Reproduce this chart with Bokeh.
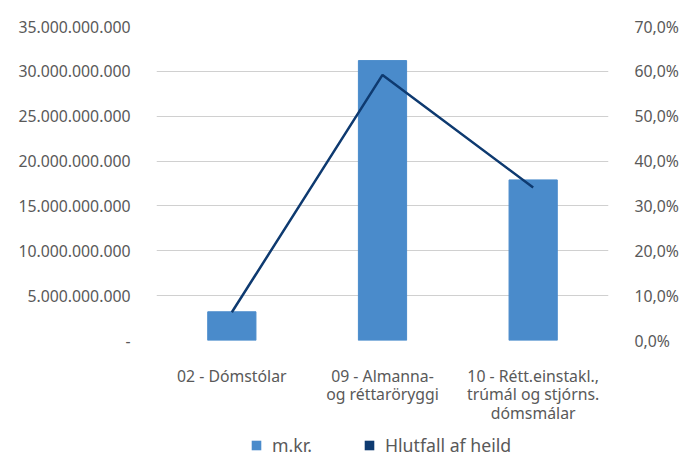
from bokeh.plotting import figure
from bokeh.layouts import column
from bokeh.models import (Range1d, LinearAxis, CustomJSTickFormatter, Legend, LegendItem,
                          FixedTicker, ColumnDataSource)
from bokeh.embed import file_html
from bokeh.resources import INLINE

categories = ["02 - Dómstólar", "09 - Almanna-\nog réttaröryggi",
              "10 - Rétt.einstakl.,\ntrúmál og stjórns.\ndómsmálar"]
amounts = [3.2e9, 31.2e9, 17.9e9]          # m.kr.
shares = [0.063, 0.592, 0.341]             # Hlutfall af heild
left_ticks = [0, 5e9, 10e9, 15e9, 20e9, 25e9, 30e9, 35e9]
right_ticks = [0.0, 0.1, 0.2, 0.3, 0.4, 0.5, 0.6, 0.7]
series_names = ["m.kr.", "Hlutfall af heild"]

BAR = "#4A8BCB"
LINE = "#0E3A70"
TXT = "#595959"
FONT = "Noto Sans"
FS = "15.8px"

src = ColumnDataSource(dict(cat=categories, amt=amounts, share=shares))

# ---- main chart ----
p = figure(x_range=categories, y_range=Range1d(0, 35e9), width=682, height=428,
           output_backend="svg", toolbar_location=None,
           min_border_left=156, min_border_right=74, min_border_top=26, min_border_bottom=88)
p.extra_y_ranges = {"pct": Range1d(0, 0.7)}
p.outline_line_color = None

p.vbar(x="cat", top="amt", width=0.32, source=src, color=BAR)
p.line(x="cat", y="share", source=src, y_range_name="pct", line_color=LINE, line_width=2.5)

p.xgrid.grid_line_color = None
p.ygrid.grid_line_color = "#D0D0D0"
p.ygrid.grid_line_width = 1
p.ygrid.ticker = FixedTicker(ticks=left_ticks)

yl = p.yaxis[0]
yl.ticker = FixedTicker(ticks=left_ticks)
yl.formatter = CustomJSTickFormatter(code="""
if (tick == 0) return "-";
return tick.toFixed(0).replace(/\\B(?=(\\d{3})+(?!\\d))/g, ".");
""")
yr = LinearAxis(y_range_name="pct", ticker=FixedTicker(ticks=right_ticks),
                formatter=CustomJSTickFormatter(code="""
return (tick*100).toFixed(1).replace(".", ",") + "%";
"""))
p.add_layout(yr, "right")

for ax in [yl, yr, p.xaxis[0]]:
    ax.axis_line_color = None
    ax.major_tick_line_color = None
    ax.minor_tick_line_color = None
    ax.major_tick_out = 0
    ax.major_tick_in = 0
    ax.minor_tick_out = 0
    ax.minor_tick_in = 0
    ax.major_label_text_color = TXT
    ax.major_label_text_font = FONT
    ax.major_label_text_font_size = FS
yl.major_label_standoff = 26
yr.major_label_standoff = 26
p.xaxis[0].major_label_standoff = 24
p.xaxis[0].major_label_text_line_height = 0.85

# ---- legend strip ----
q = figure(x_range=categories, y_range=Range1d(0, 35e9), width=682, height=29,
           output_backend="svg", toolbar_location=None,
           x_axis_location=None, y_axis_location=None, min_border=0)
q.outline_line_color = None
q.grid.grid_line_color = None
r1 = q.vbar(x="cat", top="amt", width=0, source=src, fill_color=BAR, line_color=None)
r2 = q.vbar(x="cat", top="share", width=0, source=src, fill_color=LINE, line_color=None)

legend = Legend(items=[LegendItem(label=series_names[0], renderers=[r1]),
                       LegendItem(label=series_names[1], renderers=[r2])],
                orientation="horizontal", location=(94, 0),
                glyph_width=12, glyph_height=12, label_standoff=10, spacing=51,
                padding=0, margin=0, border_line_color=None, background_fill_alpha=0,
                label_text_font=FONT, label_text_font_size="17.7px", label_text_color=TXT,
                label_height=12)
q.add_layout(legend, "center")

open("out.html", "w").write(file_html(column(p, q, spacing=0), INLINE))
